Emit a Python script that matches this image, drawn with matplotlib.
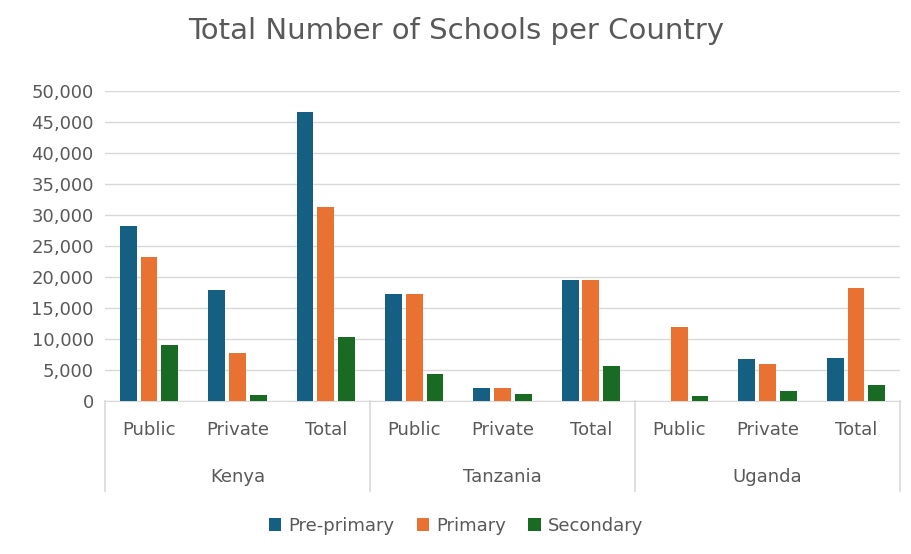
import matplotlib.pyplot as plt
import numpy as np

countries = ["Kenya", "Tanzania", "Uganda"]
sectors = ["Public", "Private", "Total"]
pre_primary = [28300, 17900, 46600, 17300, 2100, 19500, 0, 6800, 7000]
primary = [23300, 7800, 31300, 17300, 2100, 19500, 12000, 5900, 18200]
secondary = [9000, 1000, 10300, 4400, 1100, 5700, 800, 1600, 2600]

colors = ["#156082", "#E97132", "#196B24"]
txt = "#595959"

fig = plt.figure(figsize=(9.12, 5.54), dpi=100)
ax = fig.add_axes([0.115, 0.276, 0.872, 0.56])

x = np.arange(len(pre_primary))
w = 0.19
gap = 0.235
for off, vals, c, lab in zip([-gap, 0, gap], [pre_primary, primary, secondary], colors,
                             ["Pre-primary", "Primary", "Secondary"]):
    ax.bar(x + off, vals, w, color=c, label=lab, zorder=3)

ax.set_xlim(-0.5, len(x) - 0.5)
ax.set_ylim(0, 50000)
ax.set_yticks(np.arange(0, 50001, 5000))
ax.set_yticklabels([f"{v:,}" for v in range(0, 50001, 5000)], color=txt, fontsize=13)
ax.yaxis.grid(True, color="#d9d9d9", lw=1, zorder=0)
ax.tick_params(axis="y", length=0, pad=8)
ax.set_xticks([])
for s in ["top", "right", "left"]:
    ax.spines[s].set_visible(False)
ax.spines["bottom"].set_color("#d9d9d9")

# multi-level category axis
for i in x:
    ax.text(i, -0.065, sectors[i % 3], transform=ax.get_xaxis_transform(),
            ha="center", va="top", fontsize=13, color=txt)
for j, c in enumerate(countries):
    ax.text(3 * j + 1, -0.215, c, transform=ax.get_xaxis_transform(),
            ha="center", va="top", fontsize=13, color=txt)
for b in [-0.5, 2.5, 5.5, 8.5]:
    ax.plot([b, b], [0, -0.29], transform=ax.get_xaxis_transform(),
            color="#d9d9d9", lw=1.2, clip_on=False)

fig.suptitle("Total Number of Schools per Country", y=0.97, fontsize=21, color=txt)
fig.legend(loc="lower center", bbox_to_anchor=(0.5, 0.005), ncol=3, frameon=False,
           fontsize=13, labelcolor=txt, handlelength=0.7, handleheight=0.7,
           columnspacing=1.2, handletextpad=0.4)

fig.savefig("out.png")
